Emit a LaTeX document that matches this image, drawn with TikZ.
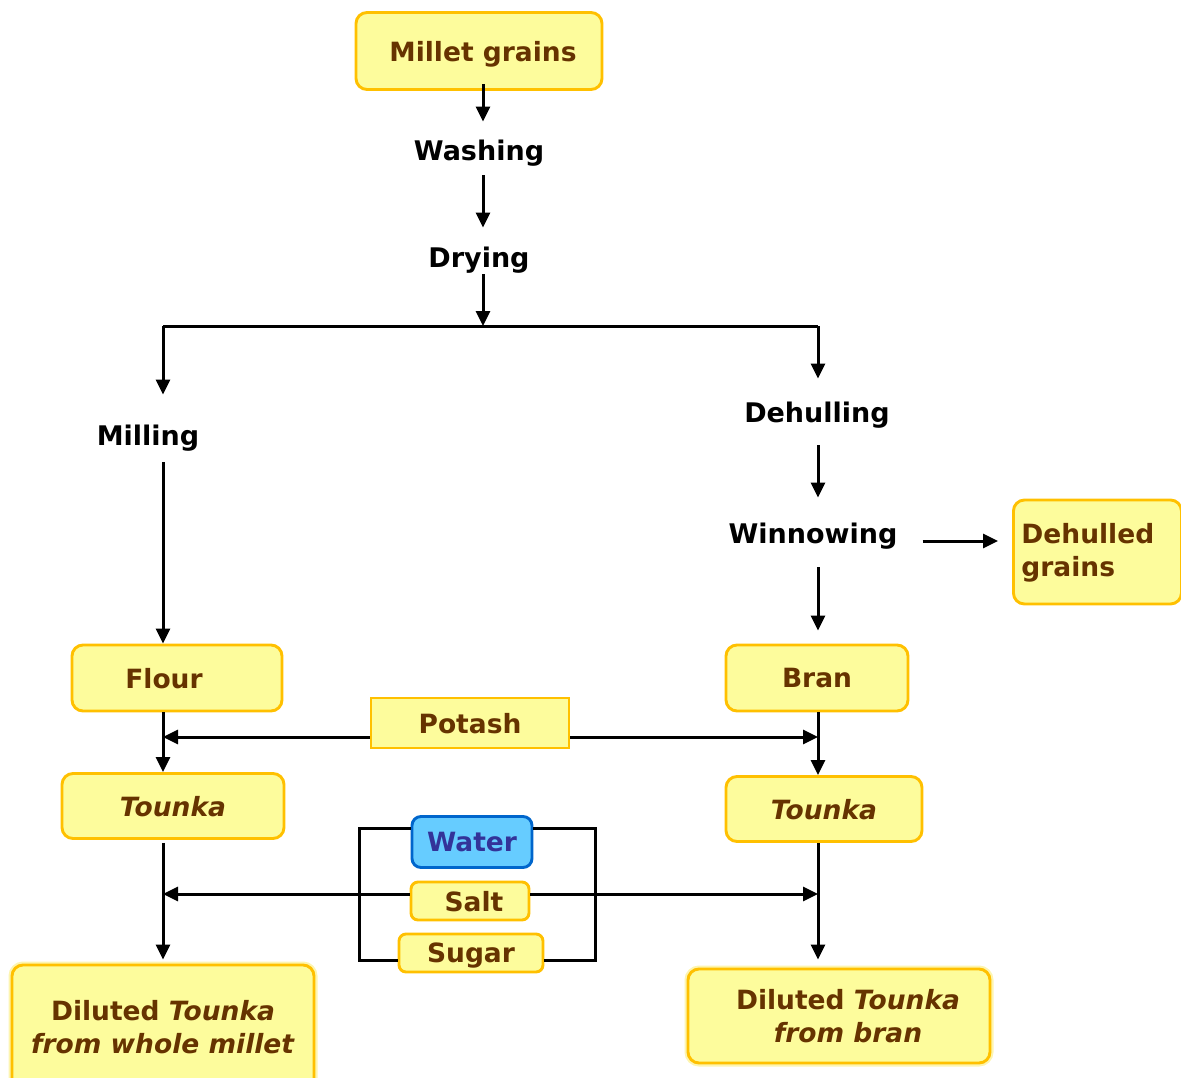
\documentclass[tikz,border=0pt]{standalone}
\usepackage{fontspec}
\setmainfont{DejaVu Sans}
\usetikzlibrary{arrows.meta}
\definecolor{boxfill}{HTML}{FDFC9C}
\definecolor{boxline}{HTML}{FFC000}
\definecolor{boxtext}{HTML}{663300}
\definecolor{halo}{HTML}{FDF5B0}
\definecolor{waterfill}{HTML}{66CCFF}
\definecolor{waterline}{HTML}{0066CC}
\definecolor{watertext}{HTML}{333399}
\begin{document}
\begin{tikzpicture}[x=1pt,y=-1pt,
  every node/.style={font=\bfseries\fontsize{26.5}{33}\selectfont, inner sep=0pt, text depth=0pt},
  prodbox/.style={draw=boxline, fill=boxfill, line width=2.9pt, rounded corners=11pt,
    text=boxtext, align=center},
  finalbox/.style={prodbox, preaction={draw=halo, line width=7pt}},
  waterbox/.style={draw=waterline, fill=waterfill, line width=2.9pt, rounded corners=9pt,
    text=watertext},
  stage/.style={text=black, font=\bfseries\fontsize{27}{33}\selectfont},
  link/.style={line width=3pt},
  arr/.style={link, -{Triangle[length=15pt,width=14pt]}}]
\useasboundingbox (0,0) rectangle (1181,1077);

% products and additives
\node[prodbox, minimum width=246pt, minimum height=77pt] (millet) at (479,51) {\hspace*{8pt}Millet grains};
\node[prodbox, minimum width=210pt, minimum height=66pt] (flour) at (177,678) {Flour\hspace*{26pt}};
\node[prodbox, minimum width=182pt, minimum height=66pt] (bran) at (817,678) {Bran};
\node[prodbox, minimum width=198pt, minimum height=50pt, rounded corners=0pt] (potash) at (470,723) {Potash};
\node[prodbox, minimum width=222pt, minimum height=65pt] (tounkaL) at (173,806) {\textit{Tounka}};
\node[prodbox, minimum width=196pt, minimum height=65pt] (tounkaR) at (824,809) {\textit{Tounka}};
\node[prodbox, anchor=west, text width=152pt, inner xsep=8pt, minimum height=104pt,
  align=left, text depth=38pt] (dehulled) at (1012,552) {Dehulled\\grains};
\node[waterbox, minimum width=120pt, minimum height=51pt] (water) at (472,842) {Water};
\node[prodbox, minimum width=118pt, minimum height=38pt, rounded corners=7pt] (salt) at (470,901) {\hspace*{8pt}Salt};
\node[prodbox, minimum width=144pt, minimum height=38pt, rounded corners=7pt] (sugar) at (471,953) {Sugar};
\node[finalbox, minimum width=302pt, minimum height=124pt] (dilL) at (163,1027) {Diluted \textit{Tounka}\\\textit{from whole millet}};
\node[finalbox, minimum width=302pt, minimum height=94pt] (dilR) at (839,1016)
  {\hspace*{18pt}Diluted \textit{Tounka}\\\hspace*{18pt}\textit{from bran}};

% process steps
\node[stage] (washing) at (479,150) {Washing};
\node[stage] (drying) at (479,257) {Drying};
\node[stage] (milling) at (148,435) {Milling};
\node[stage] (dehulling) at (817,412) {Dehulling};
\node[stage] (winnowing) at (813,533) {Winnowing};

% junction points
\coordinate (cx) at (483,0);
\coordinate (split) at (483,326);
\coordinate (splitL) at (163,326);
\coordinate (splitR) at (818,326);
\coordinate (potL) at (163,737);
\coordinate (potR) at (818,737);
\coordinate (mixL) at (163,894);
\coordinate (mixR) at (818,894);
\coordinate (brkTL) at (359,828);
\coordinate (brkBL) at (359,960);
\coordinate (brkTR) at (595,828);
\coordinate (brkBR) at (595,960);

% main line
\draw[arr, shorten <=-7pt, shorten >=18pt] (millet.south -| cx) -- (washing.north -| cx);
\draw[arr, shorten <=15pt, shorten >=19pt] (washing.south -| cx) -- (drying.north -| cx);
\draw[arr, shorten <=7pt] (drying.south -| cx) -- (split);
\draw[link] (splitL) -- (splitR);

% whole-millet branch
\draw[arr, shorten >=30pt] (splitL) -- (milling.north -| splitL);
\draw[arr, shorten <=17pt] (milling.south -| splitL) -- (flour.north -| splitL);
\draw[arr] (flour.south -| splitL) -- (tounkaL.north -| splitL);
\draw[arr, shorten <=3pt, shorten >=4pt] (tounkaL.south -| splitL) -- (dilL.north -| splitL);

% bran branch
\draw[arr, shorten >=23pt] (splitR) -- (dehulling.north -| splitR);
\draw[arr, shorten <=23pt, shorten >=25pt] (dehulling.south -| splitR) -- (winnowing.north -| splitR);
\draw[arr, shorten <=24pt, shorten >=13pt] (winnowing.south -| splitR) -- (bran.north -| splitR);
\draw[arr, shorten <=25pt, shorten >=14pt] (winnowing.east |- 0,541) -- (dehulled.west |- 0,541);
\draw[arr] (bran.south -| splitR) -- (tounkaR.north -| splitR);
\draw[arr, shorten >=8pt] (tounkaR.south -| splitR) -- (dilR.north -| splitR);

% potash into both branches
\draw[arr] (potash.west |- potL) -- (potL);
\draw[arr] (potash.east |- potR) -- (potR);

% water, salt and sugar into both branches
\draw[link] (water.west |- brkTL) -- (brkTL) -- (brkBL) -- (sugar.west |- brkBL);
\draw[link] (water.east |- brkTR) -- (brkTR) -- (brkBR) -- (sugar.east |- brkBR);
\draw[arr] (salt.west |- mixL) -- (mixL);
\draw[arr] (salt.east |- mixR) -- (mixR);
\end{tikzpicture}
\end{document}
